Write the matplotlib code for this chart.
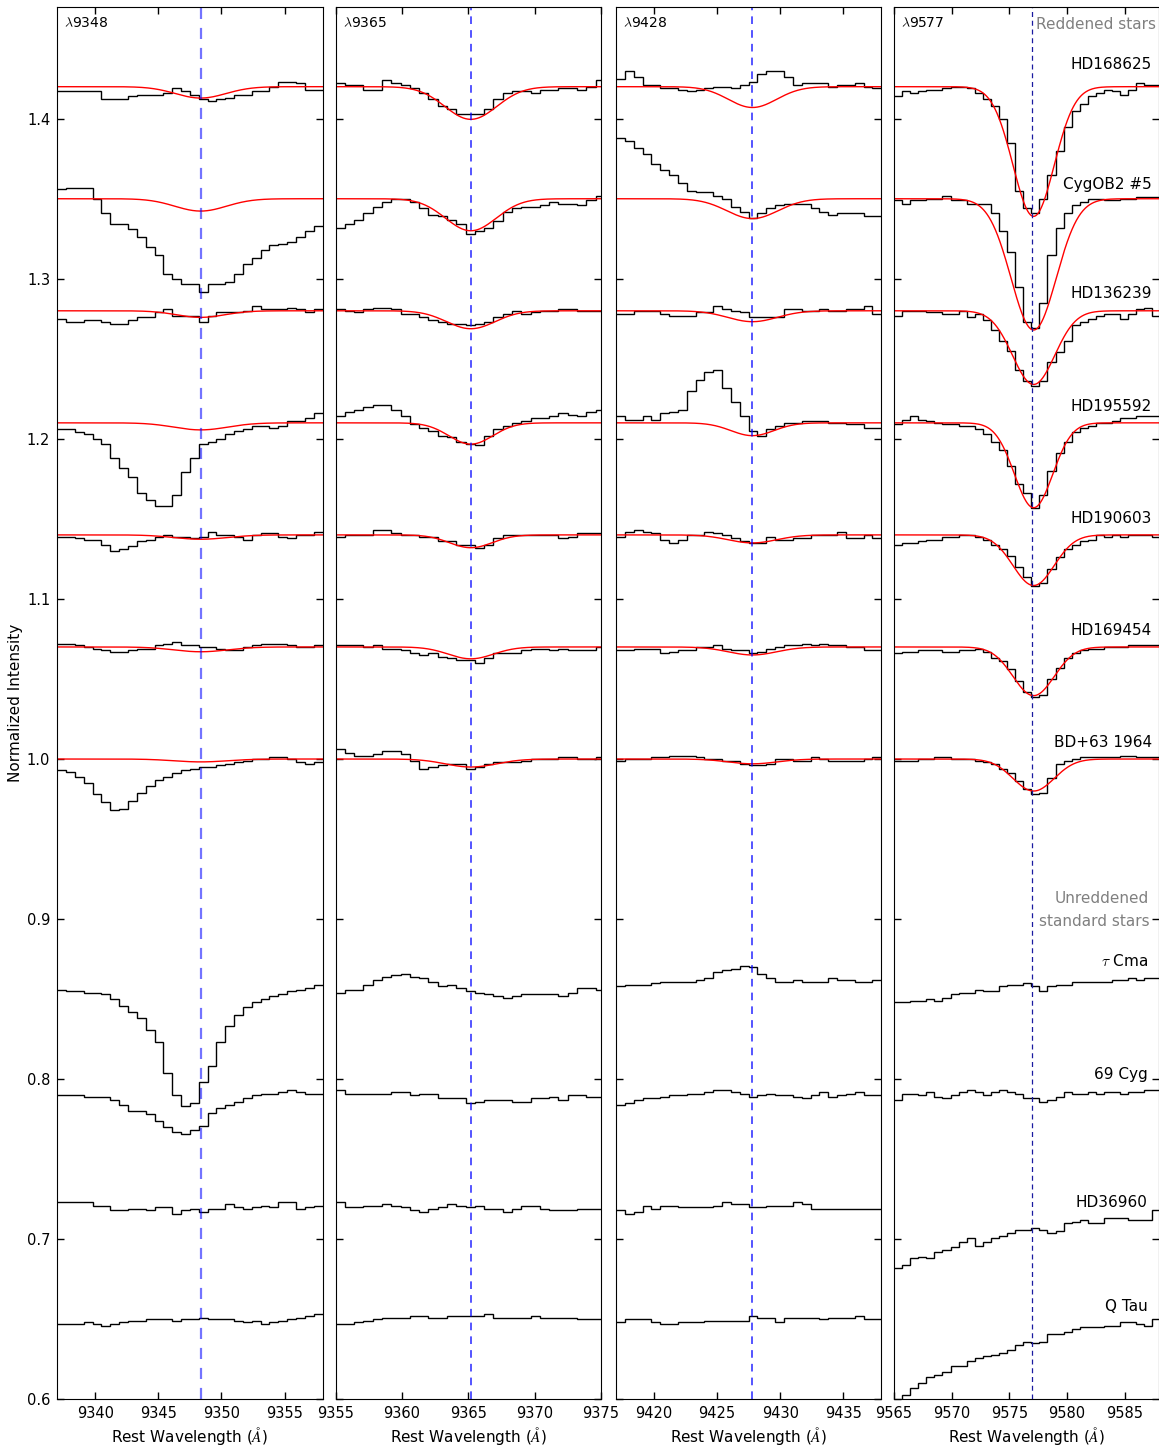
"""
# DIB / C60+ band stack: four rest-wavelength windows, reddened vs standard stars
"""

import numpy as np
import matplotlib
matplotlib.use("Agg")
import matplotlib.pyplot as plt

plt.rcParams["font.family"] = "DejaVu Sans"
plt.rcParams["mathtext.fontset"] = "cm"
plt.rcParams["font.size"] = 11

# Stars, top to bottom, and the level each spectrum is shifted to
stars = ["HD168625", "CygOB2 #5", "HD136239", "HD195592", "HD190603",
         "HD169454", "BD+63 1964", r"$\tau$ Cma", "69 Cyg", "HD36960", "Q Tau"]
offsets = [1.42, 1.35, 1.28, 1.21, 1.14, 1.07, 1.00, 0.86, 0.79, 0.72, 0.65]
n_fit = 7  # only the reddened stars get a fitted profile

# Windows
bands = [9348, 9365, 9428, 9577]
band_centre = [9348.35, 9365.2, 9427.8, 9577.0]
fit_centre = [9348.35, 9365.2, 9427.8, 9577.1]
band_start = [9337.0, 9355.0, 9417.0, 9565.0]
band_xlim = [(9337, 9358), (9355, 9375), (9417, 9438), (9565, 9588)]
band_xticks = [[9340, 9345, 9350, 9355],
               [9355, 9360, 9365, 9370, 9375],
               [9420, 9425, 9430, 9435],
               [9565, 9570, 9575, 9580, 9585]]
bin_width = 0.7

# Binned spectra, in units of 0.001 relative to the star's offset (one row per star)
flux_9348 = [
    [-3, -3, -3, -3, -3, -8, -8, -8, -6, -5, -5, -5, -4, -1, -3, -5, -8, -9, -8, -7, -5, -5, -3, -3, 0, 3, 3, 2, -2, -2],
    [6, 7, 7, 7, 0, -9, -16, -16, -19, -24, -30, -35, -47, -50, -53, -53, -58, -53, -53, -52, -47, -41, -37, -32, -29, -28, -27, -24, -20, -17],
    [-5, -7, -7, -6, -6, -7, -8, -8, -6, -4, -4, -1, 1, -3, -3, -3, -7, -3, -1, -1, -1, 0, 3, 1, 1, 1, 2, 1, -1, 1],
    [-4, -4, -6, -7, -10, -13, -22, -28, -34, -44, -48, -52, -52, -45, -31, -22, -13, -12, -10, -7, -5, -4, -2, -2, -3, -2, 1, 1, 3, 6],
    [-1, -1, -2, -3, -3, -6, -10, -9, -7, -4, -3, -1, 0, -1, -1, -2, -1, 2, 0, 0, -1, -3, 0, 1, 1, -1, -2, 0, 0, 2],
    [2, 2, 1, 0, -1, -2, -3, -3, -2, -1, -1, 1, 2, 3, 1, 1, 0, 0, -1, -2, -2, 0, 1, 2, 2, 2, 1, 0, 0, 1],
    [-7, -8, -11, -15, -22, -27, -32, -31, -26, -21, -17, -13, -11, -9, -7, -6, -5, -5, -4, -3, -2, -1, 0, 0, 1, 1, 0, -2, -3, -2],
    [-4, -5, -5, -6, -6, -7, -10, -14, -18, -22, -29, -37, -56, -70, -77, -75, -62, -52, -37, -27, -20, -15, -12, -10, -8, -7, -5, -4, -3, -1],
    [0, 0, 0, -1, -1, -1, -3, -6, -10, -10, -12, -16, -20, -23, -24, -22, -19, -11, -8, -6, -4, -2, 0, 1, 1, 2, 3, 2, 1, 1],
    [3, 3, 3, 3, 1, 1, -2, -2, -1, -1, -2, 0, 0, -4, -2, -1, -3, -1, -1, 2, 0, -1, 0, 1, 0, 3, 3, -1, 0, 1],
    [-3, -3, -3, -2, -3, -4, -3, -2, -1, -1, 0, 0, 0, -1, 0, 0, 1, 0, 0, 0, -1, -2, -1, -3, -2, -1, 0, 1, 2, 3],
]
flux_9365 = [
    [2, 1, 1, -2, -2, 4, 2, 1, -1, -4, -8, -12, -14, -17, -17, -17, -14, -8, -4, -3, -3, -4, -2, -2, -1, -1, -2, 0, 4],
    [-18, -16, -13, -9, -5, -2, 0, 0, -2, -6, -10, -11, -13, -16, -22, -20, -18, -14, -8, -6, -5, -5, -4, -2, -3, -3, -4, -1, 2],
    [1, 0, -1, 1, 2, 2, 1, -2, -2, -4, -6, -7, -8, -8, -9, -8, -7, -4, -2, 0, -2, -1, 0, 0, 1, 1, 0, 0, 0],
    [4, 7, 8, 10, 11, 11, 8, 4, -1, -3, -5, -8, -9, -12, -13, -14, -8, -4, -2, 0, 1, 3, 3, 4, 6, 5, 4, 7, 8],
    [-1, 0, 0, 0, 3, 3, 1, 0, 0, -1, -1, -4, -4, -6, -6, -8, -6, -2, 0, 0, 0, 0, 0, 0, -2, -1, 1, 1, 1],
    [1, 1, 1, 0, 1, -1, -1, -2, -4, -5, -4, -6, -7, -8, -8, -10, -7, -4, -4, -4, -2, -1, -1, -2, -1, -2, -2, -2, 0],
    [6, 4, 2, 2, 3, 5, 5, 3, -1, -6, -5, -4, -3, -3, -6, -5, -3, -2, -2, -2, -1, 0, 0, 0, 1, 1, 0, 0, 1],
    [-6, -4, -4, -1, 2, 4, 5, 6, 4, 3, 1, -2, -1, -3, -5, -6, -7, -8, -9, -8, -7, -7, -7, -7, -8, -6, -3, -3, -4],
    [3, 1, 1, 1, 1, 1, 2, 2, 0, 1, 1, -2, -2, -2, -5, -4, -3, -3, -3, -4, -4, -2, -2, -1, -3, 0, 0, -1, -1],
    [3, 0, 0, 1, 1, 2, 1, 0, -2, -3, -1, 0, 2, 1, 0, 1, -1, -1, -3, -1, 1, 1, -1, -2, -2, -2, -1, -1, -1],
    [-3, -3, -2, -1, 0, 1, 1, 1, 2, 2, 1, 1, 2, 2, 2, 2, 3, 1, 1, 1, 1, 2, 1, 1, 1, 1, 0, 0, 0],
]
flux_9428 = [
    [5, 10, 6, 1, 1, -1, -1, -2, -3, -2, -1, 0, 0, -1, 1, 3, 8, 10, 10, 6, 1, 2, 2, 2, 0, 1, 1, 2, 0, -1],
    [38, 36, 32, 28, 22, 18, 15, 10, 5, 4, 4, 2, 0, -5, -8, -12, -9, -6, -4, -3, -3, -3, -6, -8, -10, -9, -9, -9, -11, -11],
    [-2, -2, 0, 0, 0, -2, -3, -3, -3, -1, -1, 3, 1, 0, -1, -4, -4, -4, -4, 1, 1, 0, 0, 1, 0, 0, 1, 1, 3, -2],
    [4, 2, 2, 4, 2, 6, 7, 8, 20, 27, 32, 33, 22, 13, 4, -5, -8, -4, -2, 0, 0, 1, 1, 1, 0, 0, -1, -1, -3, -3],
    [-1, 2, 3, 2, 1, -3, -5, -3, 0, 0, 2, 1, 0, -2, -4, -5, -5, -1, -3, -3, -2, -2, 0, 0, 0, 2, -2, -2, 0, -2],
    [-2, -2, -1, -1, -1, -4, -3, -2, -2, 0, 0, 1, -1, -2, -2, -4, -3, -1, 0, 1, 1, 2, 1, 2, 1, 1, 0, 0, -2, -2],
    [-1, 0, 0, 0, 1, 1, 2, 2, 2, 1, 0, 0, -1, -1, -3, -4, -4, -3, 0, 0, -1, -1, 1, 0, -1, -1, -1, -1, 0, 1],
    [-2, -1, -1, -1, 0, 1, 1, 1, 1, 2, 3, 7, 8, 9, 11, 10, 6, 3, 1, 1, 2, 1, 1, 1, 3, 2, 2, 1, 1, 2],
    [-6, -5, -3, -2, -2, -1, 0, 0, 1, 1, 2, 3, 3, 2, 1, -1, 0, 1, 0, 0, -1, -2, 0, 2, -1, 0, 1, 2, 0, 0],
    [-2, -4, -3, 1, -1, 1, 1, 0, 0, 0, 0, 1, 3, 2, 2, 0, 0, 1, 1, 1, 3, 2, -1, -1, -1, -1, -1, -1, -1, -1],
    [-2, 0, 0, 0, -2, -3, -3, -2, -2, -2, -1, -1, -1, -1, -1, 2, 1, 1, -2, 1, 1, 1, 1, 0, 1, 1, 1, 2, 0, 0],
]
flux_9577 = [
    [-6, -3, -4, -3, -2, -2, -1, 0, 0, -1, -4, -8, -12, -20, -35, -65, -76, -79, -70, -55, -40, -25, -15, -11, -6, -4, -2, -3, -5, -2, 2, 1, 1],
    [-1, -3, -1, -1, 0, 0, 2, -1, -1, -3, -3, -3, -9, -20, -33, -55, -77, -81, -65, -35, -18, -9, -4, -2, 0, 0, -1, -1, 0, 0, 1, 1, 1],
    [-3, 0, 0, 0, -1, -1, -2, -2, 0, -4, -2, -6, -12, -19, -25, -37, -44, -47, -44, -32, -26, -19, -9, -7, -5, -3, -2, -2, -5, -2, 1, 2, -3],
    [-1, 2, 4, 2, 1, 0, -1, -1, -2, -2, -4, -7, -12, -17, -27, -38, -44, -53, -45, -30, -19, -12, -6, -3, -2, 0, 0, 1, 3, 3, 4, 4, 4],
    [-6, -5, -5, -4, -3, -3, -1, -1, 0, 0, -1, -3, -6, -9, -13, -20, -26, -32, -30, -21, -14, -9, -6, -4, -3, 0, -1, 0, -1, 0, 0, 0, -1],
    [-4, -3, -3, -2, -2, -2, -3, -3, -2, -2, -1, -3, -7, -9, -14, -21, -28, -31, -30, -20, -13, -7, -4, -2, -1, -1, 0, 0, 0, 1, 1, 1, 1],
    [-1, -1, -1, 0, 0, 1, 1, 0, 0, 0, -1, -2, -3, -6, -9, -14, -19, -22, -21, -12, -3, -1, 0, 1, 1, 1, 1, 1, 2, 2, 1, 1, 1],
    [-12, -12, -11, -11, -10, -11, -9, -7, -6, -6, -4, -5, -5, -2, -1, -1, 0, -2, -5, -2, -1, -1, 1, 1, 1, 1, 1, 2, 2, 3, 2, 3, 3],
    [-3, 1, 1, 0, 2, -1, -2, 0, 2, 3, 2, 0, 2, 3, 2, 1, -2, -2, -4, -3, -1, 2, 1, 1, 2, 1, 2, 2, 1, 2, 2, 3, 3],
    [-38, -36, -32, -31, -32, -28, -27, -25, -22, -19, -24, -22, -19, -18, -16, -14, -14, -13, -14, -16, -15, -10, -9, -8, -10, -10, -7, -7, -7, -8, -8, -8, -2],
    [-51, -47, -43, -40, -36, -35, -33, -29, -29, -26, -24, -23, -22, -21, -19, -16, -14, -15, -14, -9, -9, -8, -6, -5, -5, -5, -4, -4, -2, -2, -3, -4, 0],
]
band_flux = [flux_9348, flux_9365, flux_9428, flux_9577]

# Fitted Gaussian profiles (depth in units of 0.001, FWHM in Angstrom), reddened stars only
fit_depth = [
    [7.1, 7.7, 4.1, 4.4, 2.7, 3.0, 1.8],
    [20.4, 20.0, 11.2, 13.3, 8.0, 7.4, 5.0],
    [13.0, 12.4, 6.8, 8.0, 5.0, 5.0, 3.0],
    [81.0, 82.0, 46.0, 53.0, 31.6, 30.4, 20.0],
]
fit_fwhm = [
    [4.7, 4.8, 4.5, 5.0, 5.0, 5.0, 5.0],
    [4.6, 4.5, 4.3, 3.9, 3.8, 4.0, 4.5],
    [4.5, 4.75, 4.6, 4.0, 4.5, 4.5, 4.5],
    [4.2, 4.6, 4.3, 3.9, 4.2, 4.2, 4.2],
]

# Star label heights in the last panel
label_y = [1.434, 1.3587, 1.2908, 1.2205, 1.1505, 1.0805, 1.0103,
           0.8736, 0.8031, 0.723, 0.6577]

# Centre-line styles per panel
centre_style = [
    dict(color="b", alpha=0.55, lw=1.6, dashes=(5, 4)),
    dict(color="b", alpha=0.85, lw=1.1, dashes=(5, 4)),
    dict(color="b", alpha=0.85, lw=1.1, dashes=(5, 4)),
    dict(color="#1a1aa0", lw=0.9, dashes=(4, 3)),
]

fig = plt.figure(figsize=(11.59, 14.45), dpi=100)
lefts = [0.0494, 0.2895, 0.5315, 0.7714]
axes = []
for i, band in enumerate(bands):
    ax = fig.add_axes([lefts[i], 0.0316, 0.2289, 0.9638])
    axes.append(ax)

    flux = band_flux[i]
    nbin = len(flux[0])
    edges = band_start[i] + bin_width * np.arange(nbin + 1)

    # observed spectra
    for off, row in zip(offsets, flux):
        ax.stairs(off + np.array(row) / 1000.0, edges, color="k", lw=1.0, baseline=None)

    # fitted profiles
    xs = np.linspace(band_xlim[i][0], band_xlim[i][1], 600)
    for j in range(n_fit):
        sig = fit_fwhm[i][j] / 2.3548
        model = offsets[j] - fit_depth[i][j] / 1000.0 * np.exp(-0.5 * ((xs - fit_centre[i]) / sig) ** 2)
        ax.plot(xs, model, color="r", lw=1.0)

    ax.axvline(band_centre[i], **centre_style[i])

    ax.set_xlim(*band_xlim[i])
    ax.set_ylim(0.6, 1.47)
    ax.set_xticks(band_xticks[i])
    ax.set_yticks(np.arange(0.6, 1.41, 0.1))
    ax.tick_params(direction="in", top=True, right=True, length=5, width=1, pad=5, labelsize=10.5)
    if i > 0:
        ax.set_yticklabels([])
    else:
        ax.set_yticklabels(["%.1f" % v for v in np.arange(0.6, 1.41, 0.1)])
        ax.set_ylabel("Normalized Intensity", fontsize=11, labelpad=3)
    ax.set_xlabel(r"Rest Wavelength ($\AA$)", fontsize=11, labelpad=3)
    ax.text(0.027, 1.46, r"$\lambda$%d" % band, transform=ax.get_yaxis_transform(),
            ha="left", va="center", fontsize=10)

# Labels on the last panel
ax = axes[-1]
tr = ax.get_yaxis_transform()
for j, (name, y) in enumerate(zip(stars, label_y)):
    xr = 0.972 if j < n_fit else 0.956
    ax.text(xr, y, name, transform=tr, ha="right", va="center", fontsize=11)
ax.text(0.987, 1.459, "Reddened stars", transform=tr, ha="right", va="center",
        fontsize=11, color="gray")
ax.text(0.962, 0.913, "Unreddened", transform=tr, ha="right", va="center",
        fontsize=11, color="gray")
ax.text(0.962, 0.8985, "standard stars", transform=tr, ha="right", va="center",
        fontsize=11, color="gray")

fig.savefig("out.png", dpi=100)
